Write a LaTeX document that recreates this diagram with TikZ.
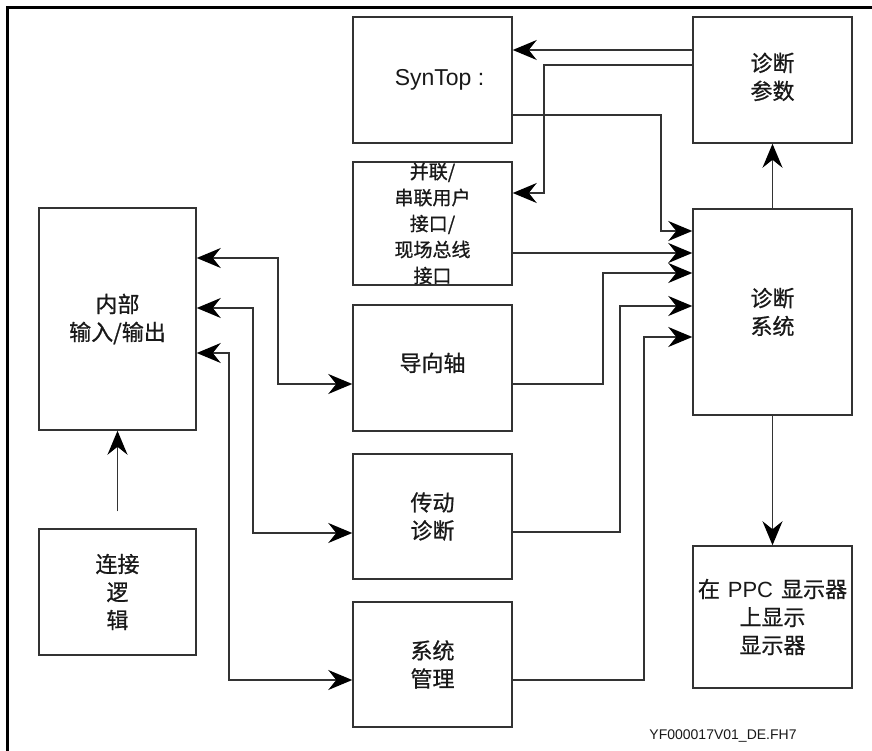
\documentclass[tikz,border=0pt]{standalone}
\usepackage{fontspec}
\setmainfont{Liberation Sans}
\newfontfamily\cjk{Noto Sans CJK SC}[FakeBold=0.8]
\usetikzlibrary{arrows.meta}
\begin{document}
\begin{tikzpicture}[x=1pt,y=-1pt,
  box/.style={draw=black!80, line width=1.5pt, rectangle, inner sep=0pt,
    align=center, minimum width=159pt, text=black!90,
    font=\cjk\fontsize{22}{28}\selectfont},
  conn/.style={draw=black!80, line width=1.5pt, -{Stealth[length=24pt,width=20pt,inset=8pt,black]}},
  both/.style={draw=black!80, line width=1.5pt, {Stealth[length=24pt,width=20pt,inset=8pt,black]}-{Stealth[length=24pt,width=20pt,inset=8pt,black]}},
  frame/.style={draw=black, line width=3pt}
]
\useasboundingbox (0,0) rectangle (872,751);
\fill[white] (0,0) rectangle (872,751);
\draw[frame] (7,751) -- (7,8) -- (872,8);

% boxes
\node[box, minimum height=126pt, font=\rmfamily\fontsize{23}{28}\selectfont] (syn) at (432.5,80) {\hspace*{14pt}SynTop :};
\node[box, minimum height=123pt, font=\cjk\fontsize{19}{26}\selectfont] (par) at (432.5,223.5) {并联/\\串联用户\\接口/\\现场总线\\接口};
\node[box, minimum height=126pt] (dpar) at (772.5,80) {诊断\\参数\\[-20pt]\mbox{}};
\node[box, minimum height=206pt] (dsys) at (772.5,312) {诊断\\系统};
\node[box, minimum width=157pt, minimum height=222pt] (io) at (117.5,319) {内部\\输入/输出};
\node[box, minimum width=157pt, minimum height=126pt] (logic) at (117.5,592) {连接\\逻\\辑};
\node[box, minimum height=126pt] (axis) at (432.5,368) {导向轴\\[-16pt]\mbox{}};
\node[box, minimum height=125pt] (drive) at (432.5,516.5) {传动\\诊断};
\node[box, minimum height=125pt] (sysm) at (432.5,664.5) {系统\\管理};
\node[box, minimum height=142pt] (ppc) at (772.5,617) {在\hspace{8pt}{\rmfamily PPC}\hspace{8pt}显示器\\上显示\\显示器};

\node[font=\fontsize{14}{16}\selectfont, text=black!90] (cap) at (723,736) {YF000017V01\_DE.FH7};

% connectors to the right column
\draw[conn] (dpar.west |- 0,50) -- (syn.east |- 0,50);
\draw[conn] (dpar.west |- 0,65) -| (544,193) -- (par.east |- 0,193);
\draw[conn] (syn.east |- 0,115) -| (661,231) -- (dsys.west |- 0,231);
\draw[conn] (par.east |- 0,253) -- (dsys.west |- 0,253);
\draw[conn] (axis.east |- 0,384) -| (603,273) -- (dsys.west |- 0,273);
\draw[conn] (drive.east |- 0,532) -| (620,306) -- (dsys.west |- 0,306);
\draw[conn] (sysm.east |- 0,680) -| (644,337) -- (dsys.west |- 0,337);
\draw[conn] (dsys.north) -- (dpar.south);
\draw[conn] (dsys.south) -- (ppc.north);

% left side
\draw[conn] ([yshift=17pt]logic.north) -- (io.south);
\draw[both] (io.east |- 0,258) -| (278,384) -- (axis.west |- 0,384);
\draw[both] (io.east |- 0,308) -| (253,533) -- (drive.west |- 0,533);
\draw[both] (io.east |- 0,353) -| (229,680) -- (sysm.west |- 0,680);
\end{tikzpicture}
\end{document}
